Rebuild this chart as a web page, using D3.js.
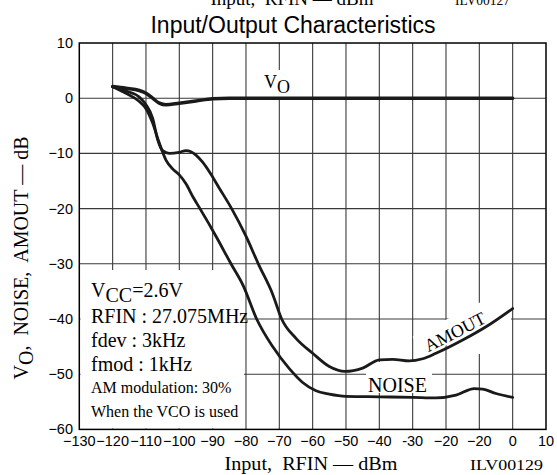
<html>
  <head>
    <meta charset="utf-8" />
    <title>Input/Output Characteristics</title>
    <style>
      body { margin: 0; background: #fff; }
      text { white-space: pre; }
    </style>
  </head>
  <body>
    <script src="https://cdn.jsdelivr.net/npm/d3@7"></script>
    <script>
      // ticks, as printed on the sheet (the -10 position really says "−20")
      const xTicks = [-130, -120, -110, -100, -90, -80, -70, -60, -50, -40, -30, -20, -10, 0, 10];
      const xTickLabels = ["−130", "−120", "−110", "−100", "−90", "−80", "−70", "−60", "−50", "−40", "-30", "−20", "−20", "0", "10"];
      const yTicks = [10, 0, -10, -20, -30, -40, -50, -60];
      const yTickLabels = ["10", "0", "−10", "−20", "−30", "−40", "−50", "−60"];

      // curves, [RFIN dBm, dB]
      const voData = [
        [-120, 2.1], [-116, 1.8], [-112, 1.4], [-110, 0.9], [-108, 0], [-106, -0.9],
        [-104, -1.2], [-100, -0.9], [-95, -0.5], [-90, -0.1], [-85, 0], [-60, 0], [0, 0]
      ];
      const amoutData = [
        [-120, 2.1], [-116, 1.3], [-112, 0.2], [-110, -1.2], [-108, -3.6], [-106.5, -7.5],
        [-105, -9.5], [-103, -10], [-100, -9.8], [-98, -9.5], [-96.5, -9.7], [-95, -10.3],
        [-93, -11.6], [-90.8, -13.5], [-88, -16.3], [-84.3, -20], [-80, -25], [-76.3, -30],
        [-72, -35.5], [-69.3, -40], [-65, -43.5], [-60, -46.2], [-55, -48.6], [-50.3, -49.5],
        [-45, -48.9], [-40, -47.4], [-36, -47.3], [-31, -47.6], [-27, -47.2], [-23, -46.2],
        [-15, -43.8], [-8, -41.4], [0, -38.1]
      ];
      const noiseData = [
        [-120, 2.1], [-116, 0.9], [-112, -0.6], [-110, -1.9], [-108, -4.5], [-106.3, -7.6],
        [-104, -11.2], [-102, -12.8], [-100, -13.9], [-98, -15.5], [-95.8, -18], [-93.8, -20],
        [-89, -25], [-84.5, -30], [-80.8, -34], [-76.8, -40], [-72, -45], [-67, -49],
        [-63, -51.5], [-59, -53], [-55, -53.6], [-50, -54], [-40, -54.1], [-30, -54.2],
        [-23, -54.3], [-17, -53.8], [-11.5, -52.6], [-9, -52.7], [-5, -53.5], [0, -54.2]
      ];

      const width = 557;
      const height = 475;
      const plotLeft = 79.3, plotRight = 546, plotTop = 43, plotBottom = 429.4;

      const svg = d3.select("body").append("svg")
        .attr("width", width)
        .attr("height", height);

      const x = d3.scaleLinear().domain([-130, 10]).range([plotLeft, plotRight]);
      const y = d3.scaleLinear().domain([-60, 10]).range([plotBottom, plotTop]);

      const serif = "'Liberation Serif', 'Times New Roman', serif";
      const sans = "'Liberation Sans', Arial, sans-serif";

      // cut-off caption of the chart above
      svg.append("text")
        .attr("x", 292).attr("y", 5).attr("text-anchor", "middle")
        .attr("font-family", serif).attr("font-size", 19)
        .text("Input,  RFIN — dBm");
      svg.append("text")
        .attr("x", 510).attr("y", 5).attr("text-anchor", "end")
        .attr("font-family", serif).attr("font-size", 14)
        .attr("textLength", 55).attr("lengthAdjust", "spacingAndGlyphs")
        .text("ILV00127");

      svg.append("text")
        .attr("x", 293).attr("y", 33).attr("text-anchor", "middle")
        .attr("font-family", sans).attr("font-size", 23)
        .text("Input/Output Characteristics");

      // grid
      const grid = svg.append("g").attr("stroke", "#3a3a3a").attr("stroke-width", 1.1);
      grid.selectAll(".gx").data(xTicks.slice(1, -1)).join("line")
        .attr("x1", d => x(d)).attr("x2", d => x(d))
        .attr("y1", plotTop).attr("y2", plotBottom);
      grid.selectAll(".gy").data(yTicks.slice(1, -1)).join("line")
        .attr("x1", plotLeft).attr("x2", plotRight)
        .attr("y1", d => y(d)).attr("y2", d => y(d));

      // white backings under the labels
      const boxes = [
        [80.5, 270, 163.5, 158.5],
        [262, 70, 34, 27],
        [449, 303, 62, 51],
        [366, 362, 66, 31]
      ];
      svg.selectAll(".box").data(boxes).join("rect")
        .attr("x", d => d[0]).attr("y", d => d[1])
        .attr("width", d => d[2]).attr("height", d => d[3])
        .attr("fill", "#fff");
      svg.append("rect")
        .attr("transform", "translate(455,332) rotate(-27)")
        .attr("x", -40).attr("y", -15).attr("width", 80).attr("height", 23)
        .attr("fill", "#fff");

      // curves
      const line = d3.line()
        .x(d => x(d[0])).y(d => y(d[1]))
        .curve(d3.curveMonotoneX);
      const series = [
        { data: voData, w: 3.5 },
        { data: amoutData, w: 2.8 },
        { data: noiseData, w: 2.8 }
      ];
      svg.selectAll(".curve").data(series).join("path")
        .attr("d", d => line(d.data))
        .attr("fill", "none")
        .attr("stroke", "#1a1a1a")
        .attr("stroke-width", d => d.w)
        .attr("stroke-linejoin", "round")
        .attr("stroke-linecap", "round");

      // frame
      svg.append("rect")
        .attr("x", plotLeft).attr("y", plotTop)
        .attr("width", plotRight - plotLeft).attr("height", plotBottom - plotTop)
        .attr("fill", "none").attr("stroke", "#000").attr("stroke-width", 1.5);

      // tick labels
      svg.selectAll(".xl").data(xTicks).join("text")
        .attr("x", d => x(d)).attr("y", 446)
        .attr("text-anchor", "middle")
        .attr("font-family", sans).attr("font-size", 14.5)
        .text((d, i) => xTickLabels[i]);
      svg.selectAll(".yl").data(yTicks).join("text")
        .attr("x", 73).attr("y", d => y(d) + 5)
        .attr("text-anchor", "end")
        .attr("font-family", sans).attr("font-size", 14.5)
        .text((d, i) => yTickLabels[i]);

      // axis titles
      svg.append("text")
        .attr("x", 311).attr("y", 470).attr("text-anchor", "middle")
        .attr("font-family", serif).attr("font-size", 19)
        .attr("textLength", 173).attr("lengthAdjust", "spacingAndGlyphs")
        .text("Input,  RFIN — dBm");
      svg.append("text")
        .attr("x", 543).attr("y", 470).attr("text-anchor", "end")
        .attr("font-family", serif).attr("font-size", 15)
        .attr("textLength", 73).attr("lengthAdjust", "spacingAndGlyphs")
        .text("ILV00129");

      const yTitle = svg.append("text")
        .attr("transform", "translate(28,258) rotate(-90)")
        .attr("text-anchor", "middle")
        .attr("font-family", serif).attr("font-size", 20);
      yTitle.append("tspan").text("V");
      yTitle.append("tspan").attr("dy", 5).text("O");
      yTitle.append("tspan").attr("dy", -5).text(",  NOISE,  AMOUT — dB");

      // curve labels
      const vo = svg.append("text")
        .attr("x", 264).attr("y", 88)
        .attr("font-family", serif).attr("font-size", 18);
      vo.append("tspan").text("V");
      vo.append("tspan").attr("dy", 5).text("O");

      svg.append("text")
        .attr("transform", "translate(455,332) rotate(-27)")
        .attr("y", 6).attr("text-anchor", "middle")
        .attr("font-family", serif).attr("font-size", 18)
        .text("AMOUT");

      svg.append("text")
        .attr("x", 368).attr("y", 392)
        .attr("font-family", serif).attr("font-size", 20)
        .text("NOISE");

      // conditions block
      const cond = svg.append("g").attr("font-family", serif);
      const vcc = cond.append("text").attr("x", 91).attr("y", 297).attr("font-size", 20);
      vcc.append("tspan").text("V");
      vcc.append("tspan").attr("dy", 5).text("CC");
      vcc.append("tspan").attr("dy", -5).text("=2.6V");
      const condLines = [
        ["RFIN : 27.075MHz", 323, 20],
        ["fdev : 3kHz", 347, 20],
        ["fmod : 1kHz", 371, 20],
        ["AM modulation: 30%", 393, 16],
        ["When the VCO is used", 417, 16]
      ];
      cond.selectAll(".cl").data(condLines).join("text")
        .attr("x", 91).attr("y", d => d[1])
        .attr("font-size", d => d[2])
        .text(d => d[0]);
    </script>
  </body>
</html>
